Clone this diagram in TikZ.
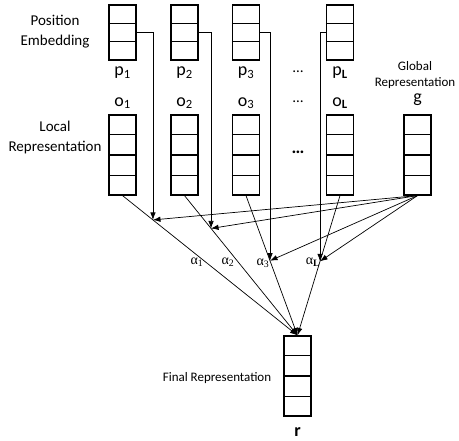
\documentclass[tikz,border=0pt]{standalone}
\usepackage{fontspec}
\setmainfont{Carlito}
\newfontfamily\greekfont{Liberation Serif}
\usetikzlibrary{arrows.meta,calc}

\begin{document}
\begin{tikzpicture}[x=1pt, y=-1pt,
  vecbox/.style={draw, line width=1.2pt, minimum width=27pt, inner sep=0pt},
  posbox/.style={vecbox, minimum height=55pt},
  locbox/.style={vecbox, minimum height=80pt},
  lbl/.style={font=\fontsize{15}{20}\selectfont, align=center},
  small/.style={font=\fontsize{13}{16}\selectfont, align=center},
  sym/.style={font=\fontsize{18}{20}\selectfont},
  wt/.style={font=\fontsize{14}{16}\greekfont},
  link/.style={-{Latex[length=7.5pt,width=5.5pt]}, line width=0.7pt}]
\useasboundingbox (0,0) rectangle (459,441);

% position embeddings
\node[posbox] (pe1) at (122.5,32.5) {};
\node[posbox] (pe2) at (184.5,32.5) {};
\node[posbox] (pe3) at (246,32.5) {};
\node[posbox] (peL) at (340,32.5) {};
\foreach \b in {pe1,pe2,pe3,peL}
  \foreach \k in {1,2}
    \draw[line width=1.2pt] ($(\b.north west)!\k/3!(\b.south west)$) -- ($(\b.north east)!\k/3!(\b.south east)$);

% local and global vectors
\node[locbox] (lr1) at (122.5,155) {};
\node[locbox] (lr2) at (184.5,155) {};
\node[locbox] (lr3) at (246,155) {};
\node[locbox] (lrL) at (340,155) {};
\node[locbox] (g) at (417.5,155) {};
\node[locbox] (r) at (297.5,376) {};
\foreach \b in {lr1,lr2,lr3,lrL,g,r}
  \foreach \k in {1,2,3}
    \draw[line width=1.2pt] ($(\b.north west)!\k/4!(\b.south west)$) -- ($(\b.north east)!\k/4!(\b.south east)$);

% symbols
\node[sym] (p1) at (122.5,73) {p\textsubscript{1}};
\node[sym] (p2) at (184.5,73) {p\textsubscript{2}};
\node[sym] (p3) at (246,73) {p\textsubscript{3}};
\node[sym] (pL) at (340,73) {p\textsubscript{\textbf{L}}};
\node[sym] (o1) at (122.5,103) {o\textsubscript{1}};
\node[sym] (o2) at (184.5,103) {o\textsubscript{2}};
\node[sym] (o3) at (246,103) {o\textsubscript{3}};
\node[sym] (oL) at (340,103) {o\textsubscript{\textbf{L}}};
\node[lbl] (pdots) at (298,72) {…};
\node[lbl] (odots) at (298,102) {…};
\node[sym] (ldots) at (298,152) {\textbf{…}};
\node[sym] (gsym) at (417.5,100) {g};
\node[sym] (rsym) at (297.5,432) {\textbf{r}};

% labels
\node[lbl] (peText) at (55,32) {Position\\Embedding};
\node[lbl] (lrText) at (55,138) {Local\\Representation};
\node[small] (gText) at (415,75) {Global\\Representation};
\node[small] (rText) at (217,378) {Final Representation};

% attention points
\coordinate (a1) at ($(lr1.south)!0.174!(r.north)$);
\coordinate (a2) at ($(lr2.south)!0.235!(r.north)$);
\coordinate (a3) at ($(lr3.south)!0.466!(r.north)$);
\coordinate (aL) at ($(lrL.south)!0.47!(r.north)$);

\foreach \b in {lr1,lr2,lr3,lrL}
  \draw[link] (\b.south) -- (r.north);
\draw[link] (pe1.east) -| (a1);
\draw[link] (pe2.east) -| (a2);
\draw[link] (pe3.east) -| (a3);
\draw[link] (peL.west) -| (aL);
\foreach \a in {a1,a2,a3,aL}
  \draw[link] (g.south) -- (\a);

\node[wt] (w1) at (197,262) {α\textsubscript{1}};
\node[wt] (w2) at (228,262) {α\textsubscript{2}};
\node[wt] (w3) at (263,263) {α\textsubscript{3}};
\node[wt] (wL) at (313,262) {α\textsubscript{\textbf{L}}};
\end{tikzpicture}
\end{document}
